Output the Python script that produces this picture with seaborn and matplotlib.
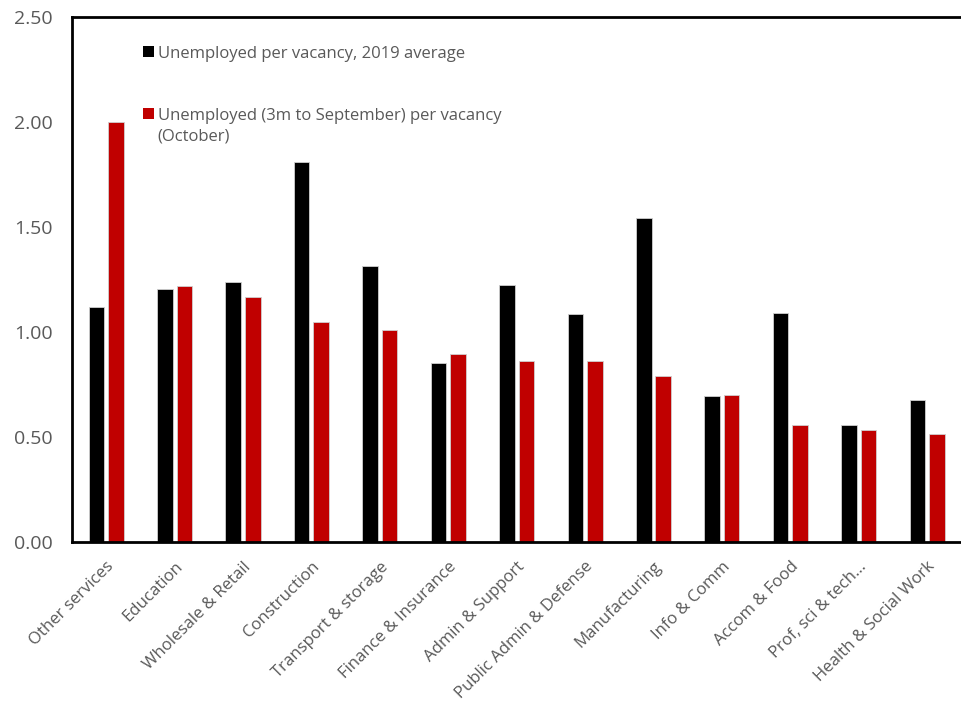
import pandas as pd
import seaborn as sns
import matplotlib.pyplot as plt
from matplotlib.patches import Patch

sectors = ['Other services', 'Education', 'Wholesale & Retail', 'Construction',
           'Transport & storage', 'Finance & Insurance', 'Admin & Support',
           'Public Admin & Defense', 'Manufacturing', 'Info & Comm',
           'Accom & Food', 'Prof, sci & tech…', 'Health & Social Work']
avg_2019 = [1.12, 1.205, 1.24, 1.81, 1.315, 0.85, 1.225, 1.085, 1.545, 0.695, 1.09, 0.555, 0.678]
october = [2.00, 1.22, 1.166, 1.047, 1.01, 0.893, 0.864, 0.862, 0.79, 0.70, 0.555, 0.534, 0.515]
series_names = ['Unemployed per vacancy, 2019 average',
                'Unemployed (3m to September) per vacancy']
second_line = '(October)'
colors = ['#000000', '#C00000']

df = pd.DataFrame({
    'Sector': sectors * 2,
    'Value': avg_2019 + october,
    'Series': [series_names[0]] * len(sectors) + [series_names[1]] * len(sectors),
})

sns.set_theme(style='white')
plt.rcParams['font.family'] = ['Open Sans', 'DejaVu Sans']
grey = '#595959'

fig = plt.figure(figsize=(9.62, 7.05), dpi=100)
ax = fig.add_axes([0.0748, 0.2312, 0.9245, 0.7448])

sns.barplot(data=df, x='Sector', y='Value', hue='Series', palette=colors,
            width=0.57, gap=0.2, saturation=1, edgecolor='#d0d0d0',
            linewidth=0.6, ax=ax)

ax.set_ylim(0, 2.5)
ax.set_yticks([0, 0.5, 1.0, 1.5, 2.0, 2.5])
ax.set_yticklabels([f'{v:.2f}' for v in ax.get_yticks()])
ax.set_xlim(-0.5, len(sectors) - 0.5)
ax.set_xlabel('')
ax.set_ylabel('')
ax.tick_params(axis='y', length=0, labelsize=14, colors=grey, pad=14)
ax.tick_params(axis='x', length=0, labelsize=12.1, colors=grey, pad=12)
plt.setp(ax.get_xticklabels(), rotation=45, ha='right', rotation_mode='anchor')

for side in ['left', 'top', 'bottom']:
    ax.spines[side].set_color('black')
    ax.spines[side].set_linewidth(2)
ax.spines['right'].set_visible(False)

handles = [Patch(facecolor=c, edgecolor='none') for c in colors]
leg = ax.legend(handles, series_names, loc='upper left', bbox_to_anchor=(0.0798, 0.945),
                frameon=False, fontsize=12, labelcolor=grey, handlelength=0.64,
                handleheight=0.64, handletextpad=0.25, labelspacing=2.75, borderpad=0,
                borderaxespad=0)

# second line of the red entry, set under its first line
fig.canvas.draw()
bb = leg.get_texts()[1].get_window_extent()
fig.text(bb.x0 / fig.bbox.width, (bb.y0 - 21) / fig.bbox.height, second_line,
         fontsize=12, color=grey, ha='left', va='bottom')

fig.savefig('out.png', dpi=100)
